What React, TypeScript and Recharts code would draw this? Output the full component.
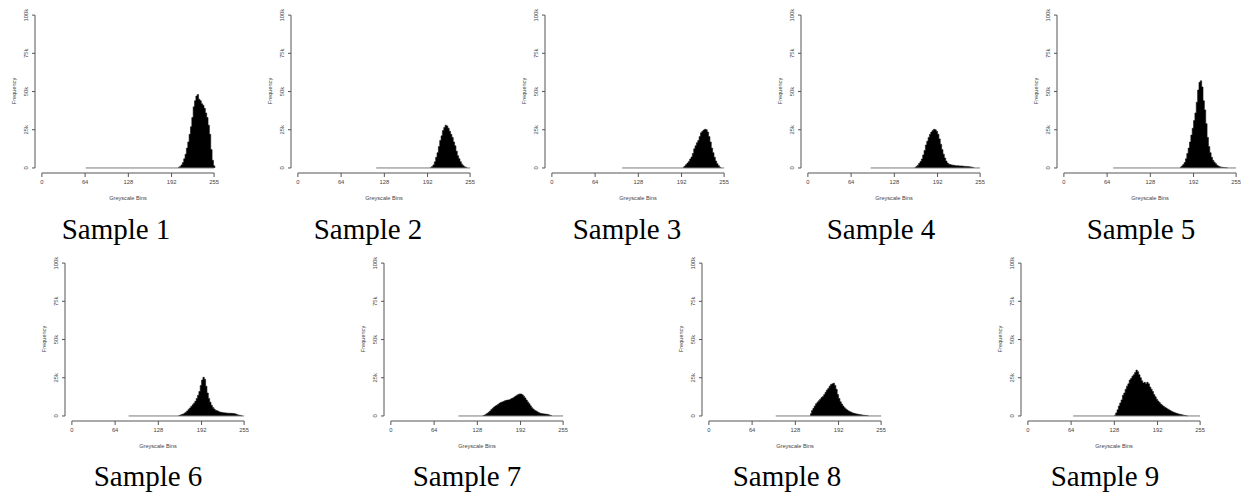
import React from 'react';
import { ComposedChart, Area, XAxis, YAxis, ReferenceLine } from 'recharts';

// axis ticks shared by every panel
const X_TICKS = [0, 64, 128, 192, 255];
const Y_TICKS = [0, 25000, 50000, 75000, 100000];
const Y_TICK_LABELS = ['0', '25k', '50k', '75k', '100k'];
const BIN_WIDTH = 2;

const SAMPLE_NAMES = ['Sample 1', 'Sample 2', 'Sample 3', 'Sample 4', 'Sample 5', 'Sample 6', 'Sample 7', 'Sample 8', 'Sample 9'];
// first grey level drawn (zero-height bars show as a grey baseline)
const LINE_START = [65, 116, 104, 93, 73, 84, 100, 99, 67];
// first non-empty bin of each histogram
const BIN_START = [202, 196, 194, 158, 172, 158, 136, 150, 128];

// counts per 2-level bin, in thousands
const COUNTS_1 = [0.5, 1, 2, 3.5, 6, 9, 13, 17, 22, 27, 33, 40, 44, 47, 48, 45, 44, 42, 41, 39, 36, 33, 28, 22, 12, 5, 1.5];
const COUNTS_2 = [0.3, 1, 2, 4, 7, 10, 14, 18, 21, 24.5, 26.5, 28, 27.5, 26, 24, 22, 20, 17, 14.5, 11, 8, 6, 4, 2.5, 1.5, 0.8, 0.4];
const COUNTS_3 = [0.5, 1.2, 2.2, 3.2, 4.3, 5.8, 7.2, 9.5, 12.5, 14.5, 16.5, 18, 20.5, 23, 24, 24.8, 25.3, 25, 23.5, 20.5, 17, 13, 10, 7, 4.5, 2.8, 1.5, 0.5];
const COUNTS_4 = [0.3, 1, 1.8, 3, 4.2, 5.8, 8.5, 11.5, 15, 17.5, 20, 22, 23.5, 24.5, 25.3, 25, 24, 22, 19, 15.5, 12, 9, 6.5, 4.5, 3.2, 2.5, 2.2, 2, 1.8, 1.7, 1.5, 1.5, 1.4, 1.3, 1.3, 1.2, 1.1, 1, 1, 0.9, 0.8, 0.7, 0.5, 0.3];
const COUNTS_5 = [0.5, 1.2, 2.2, 3.5, 6, 9.5, 13, 17, 21.5, 26, 31, 36, 43, 51, 56, 57, 53, 44, 38, 29, 20, 14, 10, 7, 5, 3.8, 2.8, 1.8, 1.2, 0.8, 0.5, 0.4, 0.3, 0.2, 0.1];
const COUNTS_6 = [0.3, 0.6, 0.9, 1.3, 1.8, 2.5, 3.3, 4.3, 5.2, 6.2, 7.3, 8.3, 9.6, 11.5, 13.5, 16, 20, 23.5, 25.3, 24, 19.5, 15, 11.5, 9, 7, 5.5, 4.5, 3.8, 3.4, 3, 2.6, 2.4, 2.2, 2.1, 2, 1.9, 1.8, 1.8, 1.7, 1.7, 1.6, 1.5, 1.2, 0.8, 0.6, 0.4, 0.2];
const COUNTS_7 = [0.3, 0.6, 1.1, 1.7, 2.4, 3.2, 4.2, 5, 5.8, 6.5, 7, 7.6, 8.3, 8.8, 9.2, 9.5, 9.9, 10.2, 10.4, 10.5, 10.9, 11.4, 11.8, 12.4, 13, 13.6, 14.1, 14.4, 14.3, 13.8, 12.9, 11.8, 10.4, 9.2, 8, 6.6, 5.4, 4.5, 3.8, 3.3, 2.7, 2.2, 1.8, 1.6, 1.4, 1.3, 1.2, 1.1, 0.9, 0.6, 0.3];
const COUNTS_8 = [1.5, 3.5, 5, 6.5, 8, 9, 10, 11, 12, 12.8, 14, 15.5, 17, 18, 19.5, 20.5, 21, 21.4, 20, 17.5, 14, 11.5, 9.3, 7.8, 6.5, 5.4, 4.6, 3.9, 3.3, 2.8, 2.4, 2, 1.7, 1.5, 1.3, 1.1, 1, 0.8, 0.6, 0.5, 0.4, 0.3, 0.2];
const COUNTS_9 = [0.5, 2, 4, 6.5, 8.5, 10.5, 13.5, 15, 17.5, 19.5, 21, 23.5, 24.5, 26, 27, 28.5, 30, 29, 27, 25, 23, 21.5, 22, 21, 22, 21, 19, 17.5, 16, 14, 12.5, 11, 9.8, 8.8, 7.8, 7, 6.3, 5.7, 5.2, 4.6, 4, 3.5, 3, 2.6, 2.2, 1.9, 1.6, 1.3, 1.1, 0.9, 0.7, 0.5, 0.3, 0.1];
const COUNTS = [COUNTS_1, COUNTS_2, COUNTS_3, COUNTS_4, COUNTS_5, COUNTS_6, COUNTS_7, COUNTS_8, COUNTS_9];

// layout
const X_MIN = -10.2;
const X_MAX = 265.2;
const Y_MIN = -3300;
const Y_MAX = 104000;
const PLOT_W = 186;
const PLOT_H = 164;
const AXIS_W = 40;
const AXIS_H = 30;
const MARGIN = { top: 9, right: 4, bottom: 2, left: 0 };
const CHART_W = AXIS_W + PLOT_W + MARGIN.right;
const CHART_H = MARGIN.top + PLOT_H + AXIS_H + MARGIN.bottom;
const ZERO_X = [42, 298, 552, 808, 1064, 72, 391, 709, 1028];
const PLOT_TOP = [9, 9, 9, 9, 9, 257, 257, 257, 257];
const CAPTION_X = [116, 368, 627, 881, 1141, 148, 467, 787, 1105];
const CAPTION_Y = [239, 239, 239, 239, 239, 486, 486, 486, 486];

const SANS = '"Liberation Sans", Arial, sans-serif';
const INK = '#444';
const AXIS = '#555';

const YTick = (props: any) => {
  const { x, y, payload } = props;
  const label = Y_TICK_LABELS[Y_TICKS.indexOf(payload.value)];
  return (
    <text x={x} y={y} transform={`rotate(-90 ${x} ${y})`} textAnchor="middle" fontSize={5.8} fill={INK} fontFamily={SANS}>
      {label}
    </text>
  );
};

function Histogram({ index }: { index: number }) {
  const counts = COUNTS[index];
  const data = counts.map((c, k) => ({ bin: BIN_START[index] + k * BIN_WIDTH, count: c * 1000 }));
  data.push({ bin: BIN_START[index] + counts.length * BIN_WIDTH, count: 0 });

  const left = ZERO_X[index] + (X_MIN * PLOT_W) / (X_MAX - X_MIN) - AXIS_W;
  const top = PLOT_TOP[index] - MARGIN.top;

  return (
    <div style={{ position: 'absolute', left, top, width: CHART_W, height: CHART_H }}>
      <ComposedChart width={CHART_W} height={CHART_H} data={data} margin={MARGIN}>
        <XAxis
          dataKey="bin"
          type="number"
          domain={[X_MIN, X_MAX]}
          ticks={X_TICKS}
          interval={0}
          allowDataOverflow
          axisLine={false}
          tickLine={{ stroke: AXIS }}
          tickSize={4}
          tickMargin={3}
          height={AXIS_H}
          tick={{ fontSize: 5.8, fill: INK, fontFamily: SANS }}
          label={{
            content: ({ viewBox }: any) => (
              <text x={viewBox.x + viewBox.width / 2} y={viewBox.y + 27} textAnchor="middle" fontSize={5.6} fill={INK} fontFamily={SANS}>
                Greyscale Bins
              </text>
            ),
          }}
        />
        <YAxis
          type="number"
          domain={[Y_MIN, Y_MAX]}
          ticks={Y_TICKS}
          interval={0}
          allowDataOverflow
          width={AXIS_W}
          axisLine={false}
          tickLine={{ stroke: AXIS }}
          tickSize={3}
          tickMargin={4}
          tick={<YTick />}
          label={{
            content: ({ viewBox }: any) => {
              const lx = viewBox.x + 21;
              const ly = viewBox.y + viewBox.height / 2;
              return (
                <text x={lx} y={ly} transform={`rotate(-90 ${lx} ${ly})`} textAnchor="middle" fontSize={5.6} fill={INK} fontFamily={SANS}>
                  Frequency
                </text>
              );
            },
          }}
        />
        <Area
          type="stepAfter"
          dataKey="count"
          fill="#000"
          fillOpacity={1}
          stroke="#111"
          strokeWidth={0.6}
          isAnimationActive={false}
          dot={false}
          activeDot={false}
        />
        <ReferenceLine segment={[{ x: LINE_START[index], y: 0 }, { x: 255, y: 0 }]} stroke="#7a7a7a" strokeWidth={1} ifOverflow="visible" />
        <ReferenceLine segment={[{ x: 0, y: Y_MIN }, { x: 255, y: Y_MIN }]} stroke={AXIS} strokeWidth={1} ifOverflow="visible" />
        <ReferenceLine segment={[{ x: X_MIN, y: 0 }, { x: X_MIN, y: 100000 }]} stroke={AXIS} strokeWidth={1} ifOverflow="visible" />
      </ComposedChart>
    </div>
  );
}

export default function App() {
  return (
    <div style={{ position: 'absolute', left: 0, top: 0, width: 1241, height: 493, background: '#fff', overflow: 'hidden' }}>
      <svg width={1241} height={493} style={{ position: 'absolute', left: 0, top: 0 }}>
        {SAMPLE_NAMES.map((name, i) => (
          <text key={name} x={CAPTION_X[i]} y={CAPTION_Y[i]} textAnchor="middle" fontSize={29} fill="#000" fontFamily='"Liberation Serif", "Times New Roman", serif'>
            {name}
          </text>
        ))}
      </svg>
      {SAMPLE_NAMES.map((name, i) => (
        <Histogram key={name} index={i} />
      ))}
    </div>
  );
}
